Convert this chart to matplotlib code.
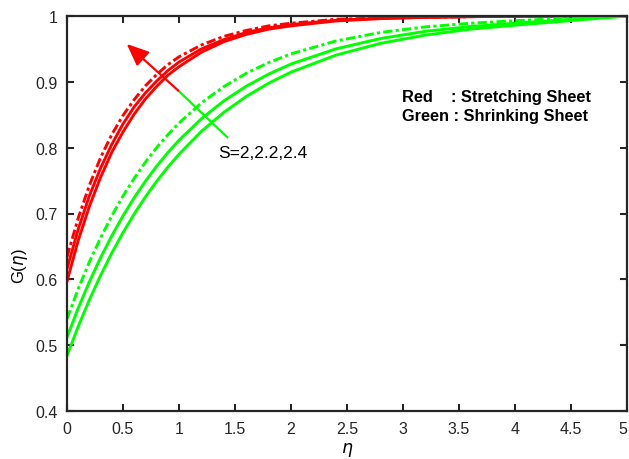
import matplotlib
matplotlib.use('Agg')
import matplotlib.pyplot as plt
import matplotlib.transforms as mtransforms

plt.rcParams['font.family'] = ['Liberation Sans', 'DejaVu Sans']

eta = [0, 0.1, 0.2, 0.3, 0.4, 0.5, 0.6, 0.7, 0.8, 0.9, 1.0,
       1.2, 1.4, 1.6, 1.8, 2.0, 2.4, 2.8, 3.2, 3.6, 4.0, 4.5, 5.0]

# stretching sheet (red), S = 2.4 dash-dot, 2.2, 2
red_s24 = [0.634, 0.693, 0.743, 0.785, 0.820, 0.849, 0.873, 0.894, 0.911, 0.926, 0.938,
           0.956, 0.969, 0.978, 0.985, 0.989, 0.995, 0.997, 0.998, 0.999, 1.0, 1.0, 1.0]
red_s22 = [0.616, 0.676, 0.727, 0.769, 0.805, 0.836, 0.862, 0.883, 0.901, 0.917, 0.930,
           0.950, 0.964, 0.975, 0.982, 0.987, 0.9935, 0.9967, 0.998, 0.999, 1.0, 1.0, 1.0]
red_s2 = [0.597, 0.659, 0.711, 0.755, 0.793, 0.824, 0.851, 0.874, 0.893, 0.910, 0.923,
          0.945, 0.961, 0.972, 0.980, 0.985, 0.9925, 0.996, 0.998, 0.999, 0.9995, 1.0, 1.0]

# shrinking sheet (green)
green_s24 = [0.540, 0.5855, 0.6265, 0.663, 0.6966, 0.7265, 0.7535, 0.778, 0.800, 0.8196, 0.8374,
             0.868, 0.8927, 0.9129, 0.9292, 0.9425, 0.962, 0.975, 0.9835, 0.989, 0.9928, 0.997, 1.0]
green_s22 = [0.512, 0.5562, 0.5964, 0.633, 0.6662, 0.6965, 0.724, 0.749, 0.7718, 0.7925, 0.8113,
             0.844, 0.871, 0.8933, 0.9117, 0.927, 0.950, 0.9658, 0.9767, 0.984, 0.989, 0.995, 1.0]
green_s2 = [0.484, 0.5284, 0.569, 0.606, 0.640, 0.671, 0.6993, 0.7252, 0.7488, 0.7704, 0.790,
            0.8248, 0.8536, 0.8778, 0.8979, 0.9147, 0.9405, 0.9585, 0.971, 0.980, 0.986, 0.993, 1.0]

xticks = [0, 0.5, 1, 1.5, 2, 2.5, 3, 3.5, 4, 4.5, 5]
xticklabels = ['0', '0.5', '1', '1.5', '2', '2.5', '3', '3.5', '4', '4.5', '5']
yticks = [0.4, 0.5, 0.6, 0.7, 0.8, 0.9, 1.0]
yticklabels = ['0.4', '0.5', '0.6', '0.7', '0.8', '0.9', '1']

RED = '#ff0000'
GREEN = '#00ff00'
dashdot = (0, (3.2, 1.1, 1.1, 1.1))

fig = plt.figure(figsize=(6.29, 4.60), dpi=100)
ax = fig.add_axes([67 / 629, 48 / 460, 560 / 629, 395 / 460])

lw = 2.1
ax.plot(eta, red_s24, color=RED, lw=lw, linestyle=dashdot)
ax.plot(eta, red_s22, color=RED, lw=lw)
ax.plot(eta, red_s2, color=RED, lw=lw)
ax.plot(eta, green_s24, color=GREEN, lw=lw, linestyle=dashdot)
ax.plot(eta, green_s22, color=GREEN, lw=lw)
ax.plot(eta, green_s2, color=GREEN, lw=lw)

# arrow marking increasing S
ax.plot([0.994, 1.431], [0.8866, 0.8158], color=GREEN, lw=1.6)
ax.annotate('', xy=(0.533, 0.9575), xytext=(0.994, 0.8866),
            arrowprops=dict(arrowstyle='-|>,head_length=0.75,head_width=0.32',
                            color=RED, lw=1.6, mutation_scale=18,
                            shrinkA=0, shrinkB=0))
ax.text(1.348, 0.793, 'S=2,2.2,2.4', fontsize=12.5, va='center', ha='left')

ax.text(2.99, 0.878, 'Red    : Stretching Sheet', fontsize=11.8,
        fontweight='bold', va='center', ha='left')
ax.text(2.99, 0.849, 'Green : Shrinking Sheet', fontsize=11.8,
        fontweight='bold', va='center', ha='left')

ax.set_xlim(0, 5)
ax.set_ylim(0.4, 1.0)
ax.set_xticks(xticks)
ax.set_xticklabels(xticklabels)
ax.set_yticks(yticks)
ax.set_yticklabels(yticklabels)
ax.tick_params(direction='in', length=5, width=1.5, top=True, right=True,
               labelsize=11.5, colors='#262626', pad=7)
for sp in ax.spines.values():
    sp.set_linewidth(1.6)
    sp.set_color('#262626')

# keep the last x tick label inside the figure
last = ax.get_xticklabels()[-1]
last.set_transform(last.get_transform() +
                   mtransforms.ScaledTranslation(-4 / 100, 0, fig.dpi_scale_trans))

ax.set_xlabel(r'$\eta$', fontsize=12.5, labelpad=3)
ax.set_ylabel(r'G($\eta$)', fontsize=12)
ax.yaxis.set_label_coords(-0.066, 0.37)

fig.savefig('out.png', dpi=100)
